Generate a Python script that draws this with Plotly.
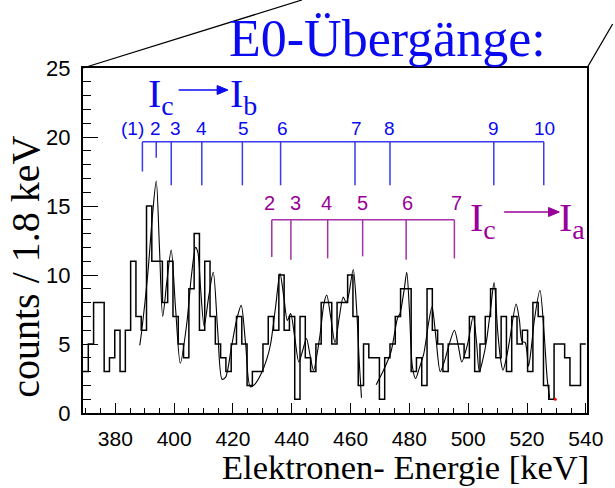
import numpy as np
import plotly.graph_objects as go

# ---- spectrum: counts per 1.8 keV bin, starting at 369 keV ----
bin_start = 369.0
bin_width = 1.8
counts = [3, 5, 8, 8, 3, 4, 6, 3, 6, 11,
          7, 6, 15, 11, 11, 8, 11, 7, 5, 4,
          9, 13, 6, 11, 7, 5, 4, 3, 5, 7,
          5, 2, 3, 3, 5, 7, 6, 10, 6, 7,
          1, 7, 4, 3, 5, 8, 8, 5, 8, 8,
          10, 7, 2, 5, 4, 4, 1, 4, 5, 7,
          9, 9, 3, 4, 2, 9, 6, 5, 3, 5,
          5, 5, 4, 7, 3, 5, 7, 9, 4, 7,
          3, 7, 5, 6, 3, 8, 7, 2, 1, 5,
          5, 4, 2, 2, 5]

# ---- fitted curves (two fit regions) ----
fitA_E = [388.3, 389.0, 391.0, 392.5, 393.9, 395.0, 396.1, 397.5, 399.0, 400.5,
          402.1, 404.3, 405.9, 407.3, 408.1, 409.0, 410.2, 411.8, 413.3, 414.8,
          416.3, 417.5, 419.5, 421.3, 422.8, 424.3, 425.9, 427.5, 429.5, 431.5,
          432.8, 434.5, 436.0, 437.3, 438.5, 439.6, 441.0, 442.4, 443.8, 445.0,
          446.2, 447.4, 449.5, 451.0, 451.9, 453.2, 454.7, 456.2, 457.5, 458.5,
          459.3, 460.9, 462.0, 463.0, 463.7]
fitA_c = [4.9, 6.0, 10.0, 14.0, 16.8, 12.0, 7.0, 9.5, 11.8, 7.5,
          3.6, 6.5, 10.0, 12.0, 11.6, 9.0, 6.3, 8.5, 10.2, 6.0,
          2.45, 2.6, 4.8, 6.8, 7.8, 5.0, 1.9, 2.1, 2.8, 3.9,
          5.0, 7.7, 10.1, 8.4, 6.7, 7.2, 5.5, 3.7, 4.6, 5.4,
          4.2, 3.1, 5.5, 8.0, 8.55, 7.0, 5.1, 7.0, 8.4, 8.0,
          8.5, 10.4, 7.7, 3.5, 1.1]

fitB_E = [468.7, 471.0, 473.7, 476.0, 476.8, 478.2, 479.1, 480.0, 481.0, 482.1,
          483.3, 484.9, 486.5, 487.7, 489.0, 490.5, 492.0, 493.3, 495.3, 496.7,
          497.8, 499.8, 501.7, 502.8, 503.8, 505.0, 506.2, 507.6, 508.8, 510.0,
          511.0, 511.8, 513.0, 514.1, 516.3, 517.4, 518.3, 519.4, 520.5, 521.5,
          522.5, 524.4, 525.8, 526.9, 527.7]
fitB_c = [2.05, 3.0, 4.4, 6.9, 7.2, 8.9, 10.2, 7.5, 3.4, 2.5,
          3.2, 4.3, 6.5, 7.7, 5.5, 3.0, 3.8, 4.8, 6.0, 4.8,
          3.7, 5.0, 7.0, 5.2, 3.0, 3.9, 5.2, 7.5, 9.45, 6.0,
          3.9, 3.1, 4.0, 5.3, 7.9, 6.75, 5.2, 5.1, 3.4, 4.8,
          6.75, 8.9, 5.8, 2.4, 1.1]

# ---- E0 transitions I_c -> I_b (blue comb) ----
b_pos = [389.2, 393.9, 399.0, 409.4, 423.2, 436.2, 461.5, 473.4, 508.7, 525.7]
b_low = [17.5, 18.5, 16.5, 16.5, 16.5, 16.5, 16.5, 16.5, 16.5, 16.5]
b_top = 19.65
b_labels = ["(1)", "2", "3", "4", "5", "6", "7", "8", "9", "10"]
b_label_E = [385.7, 393.7, 400.5, 409.2, 423.6, 437.0, 461.9, 473.3, 508.6, 526.0]

# ---- E0 transitions I_c -> I_a (magenta comb) ----
a_pos = [433.2, 439.7, 452.2, 464.1, 478.9, 495.3]
a_low = [11.3, 11.1, 11.2, 11.35, 11.1, 11.2]
a_top = 14.0
a_labels = ["2", "3", "4", "5", "6", "7"]
a_label_E = [432.3, 441.4, 451.8, 464.2, 479.3, 496.1]

BLUE = "#0a0af0"
BLUE_LINE = "#3a3af0"
MAG = "#990099"
MAG_LINE = "#a532a5"
SERIF = "Liberation Serif, Times New Roman, serif"
SANS = "Liberation Sans, Arial, Helvetica, sans-serif"

# plot-area geometry (pixels in the 615x488 page)
W, H = 615, 488
L, R, T, B = 83, 594, 68, 413


def px(xp, yp):
    """page pixel -> paper coordinates"""
    return (xp - L) / (R - L), (B - yp) / (B - T)


fig = go.Figure()

# histogram as a step outline
edges = bin_start + bin_width * np.arange(len(counts) + 1)
hx = list(edges)
hy = list(counts) + [counts[-1]]
fig.add_trace(go.Scatter(x=hx, y=hy, mode="lines", line=dict(shape="hv", color="black", width=1.5),
                         hoverinfo="skip"))

# fit curves
for fe, fc in ((fitA_E, fitA_c), (fitB_E, fitB_c)):
    fig.add_trace(go.Scatter(x=fe, y=fc, mode="lines",
                             line=dict(shape="spline", smoothing=0.8, color="black", width=1.1),
                             hoverinfo="skip"))

# small end marker of the second fit
fig.add_trace(go.Scatter(x=[fitB_E[-1] + 1.9], y=[1.0], mode="markers",
                         marker=dict(color="red", size=3), hoverinfo="skip"))


def comb(pos, low, top, color):
    xs, ys = [min(pos), max(pos)], [top, top]
    for p, lo in zip(pos, low):
        xs += [None, p, p]
        ys += [None, top, lo]
    fig.add_trace(go.Scatter(x=xs, y=ys, mode="lines", line=dict(color=color, width=1.5),
                             hoverinfo="skip"))


comb(b_pos, b_low, b_top, BLUE_LINE)
comb(a_pos, a_low, a_top, MAG_LINE)

annotations = []
shapes = []
for lab, e in zip(b_labels, b_label_E):
    annotations.append(dict(x=e, y=20.65, xref="x", yref="y", text=lab, showarrow=False,
                            xanchor="center", yanchor="middle",
                            font=dict(family=SANS, size=19, color=BLUE)))
for lab, e in zip(a_labels, a_label_E):
    annotations.append(dict(x=e, y=15.2, xref="x", yref="y", text=lab, showarrow=False,
                            xanchor="center", yanchor="middle",
                            font=dict(family=SANS, size=20, color=MAG)))


def transition(x_from, x_sub_to, y_mid, sub1, sub2, color, arrow_start, arrow_end, y_arrow):
    """'I_x -> I_y' label with a filled arrow between the two levels"""
    x0, y0 = px(x_from, y_mid)
    annotations.append(dict(x=x0, y=y0, xref="paper", yref="paper", xanchor="left", yanchor="middle",
                            text="I<sub>%s</sub>" % sub1, showarrow=False, borderpad=0,
                            font=dict(family=SERIF, size=40, color=color)))
    x1, _ = px(x_sub_to, y_mid)
    annotations.append(dict(x=x1, y=y0, xref="paper", yref="paper", xanchor="left", yanchor="middle",
                            text="I<sub>%s</sub>" % sub2, showarrow=False, borderpad=0,
                            font=dict(family=SERIF, size=40, color=color)))
    head = 11
    ax0, ay0 = px(arrow_start, y_arrow)
    ax1, _ = px(arrow_end - head, y_arrow)
    shapes.append(dict(type="line", xref="paper", yref="paper", x0=ax0, y0=ay0, x1=ax1, y1=ay0,
                       line=dict(color=color, width=1.6)))
    p1 = px(arrow_end - head, y_arrow - 4.5)
    p2 = px(arrow_end, y_arrow)
    p3 = px(arrow_end - head, y_arrow + 4.5)
    shapes.append(dict(type="path", xref="paper", yref="paper",
                       path="M %f %f L %f %f L %f %f Z" % (p1[0], p1[1], p2[0], p2[1], p3[0], p3[1]),
                       fillcolor=color, line=dict(color=color, width=1)))


transition(148, 231, 96, "c", "b", BLUE, 180, 230, 90)
transition(474, 565, 220, "c", "a", MAG, 510, 566, 212)

# title and axis titles
tx, ty = px(392, 38)
annotations.append(dict(x=tx, y=ty, xref="paper", yref="paper", xanchor="center", yanchor="middle",
                        text="E0-Übergänge:", showarrow=False,
                        font=dict(family=SERIF, size=52, color=BLUE)))
xx, xy = px(597, 467)
annotations.append(dict(x=xx, y=xy, xref="paper", yref="paper", xanchor="right", yanchor="middle",
                        text="Elektronen- Energie [keV]", showarrow=False, borderpad=0,
                        font=dict(family=SERIF, size=34.5, color="black")))
yx, yy = px(24, 267)
annotations.append(dict(x=yx, y=yy, xref="paper", yref="paper", xanchor="center", yanchor="middle",
                        textangle=-90, text="counts / 1.8 keV", showarrow=False,
                        font=dict(family=SERIF, size=40, color="black")))

# perspective lines from the frame corners
sx0, sy0 = px(L, T)
sx1, sy1 = px(305, 0)
rx0, ry0 = px(R, T)
rx1, ry1 = px(620, 24)
shapes += [
    dict(type="line", xref="paper", yref="paper", x0=sx0, y0=sy0, x1=sx1, y1=sy1,
         line=dict(color="black", width=1.3)),
    dict(type="line", xref="paper", yref="paper", x0=rx0, y0=ry0, x1=rx1, y1=ry1,
         line=dict(color="black", width=1.3)),
]

fig.update_layout(
    width=W, height=H,
    margin=dict(l=L, r=W - R, t=T, b=H - B, pad=0),
    paper_bgcolor="white", plot_bgcolor="white",
    showlegend=False,
    annotations=annotations,
    shapes=shapes,
)
fig.update_xaxes(range=[369, 540.4], showgrid=False, zeroline=False,
                 showline=True, linecolor="black", linewidth=2, mirror=True,
                 ticks="inside", ticklen=10, tickwidth=1, tickcolor="black",
                 tick0=380, dtick=20,
                 minor=dict(ticks="inside", ticklen=5, dtick=5, tick0=380, tickcolor="black", showgrid=False),
                 tickfont=dict(family=SANS, size=21, color="black"), ticklabelstandoff=6)
fig.update_yaxes(range=[0, 25], showgrid=False, zeroline=False,
                 showline=True, linecolor="black", linewidth=2, mirror=True,
                 ticks="inside", ticklen=15, tickwidth=1, tickcolor="black",
                 tick0=0, dtick=5,
                 minor=dict(ticks="inside", ticklen=8, dtick=1, tickcolor="black", showgrid=False),
                 tickfont=dict(family=SANS, size=22, color="black"), ticklabelstandoff=6)

fig.write_html("out.html")
